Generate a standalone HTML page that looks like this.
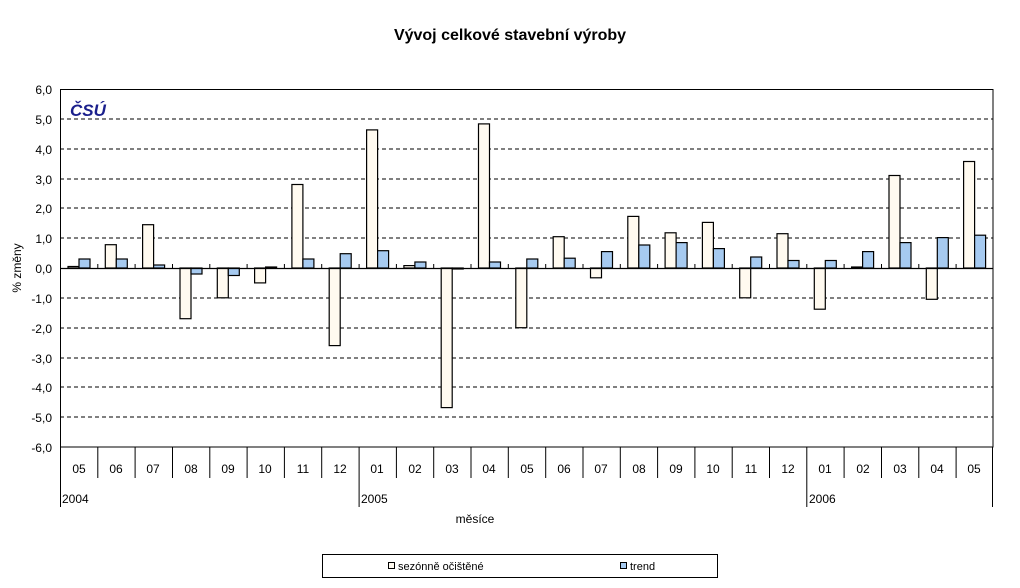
<!DOCTYPE html>
<html><head><meta charset="utf-8"><style>
html,body{margin:0;padding:0;background:#fff;}
svg{display:block;font-family:"Liberation Sans",Arial,sans-serif;}
</style></head><body>
<svg width="1020" height="588" viewBox="0 0 1020 588" xmlns="http://www.w3.org/2000/svg">
<rect width="1020" height="588" fill="#fff"/>
<text x="510" y="40" text-anchor="middle" font-size="16" font-weight="bold">Vývoj celkové stavební výroby</text>
<g stroke="#000" stroke-width="1" stroke-dasharray="4,3">
<line x1="60" x2="993" y1="119" y2="119"/><line x1="60" x2="993" y1="149" y2="149"/>
<line x1="60" x2="993" y1="179" y2="179"/><line x1="60" x2="993" y1="208" y2="208"/>
<line x1="60" x2="993" y1="238" y2="238"/><line x1="60" x2="993" y1="298" y2="298"/>
<line x1="60" x2="993" y1="328" y2="328"/><line x1="60" x2="993" y1="358" y2="358"/>
<line x1="60" x2="993" y1="387" y2="387"/><line x1="60" x2="993" y1="417" y2="417"/>
</g>
<rect x="60.5" y="89.5" width="932.5" height="357.5" fill="none" stroke="#000"/>
<text x="70" y="116" font-size="17" font-weight="bold" fill="#1a1f8c" font-style="italic">ČSÚ</text>
<g font-size="12" text-anchor="end">
<text x="52" y="94">6,0</text><text x="52" y="124">5,0</text><text x="52" y="154">4,0</text>
<text x="52" y="184">3,0</text><text x="52" y="213">2,0</text><text x="52" y="243">1,0</text>
<text x="52" y="273">0,0</text><text x="52" y="303">-1,0</text><text x="52" y="333">-2,0</text>
<text x="52" y="363">-3,0</text><text x="52" y="392">-4,0</text><text x="52" y="422">-5,0</text>
<text x="52" y="452">-6,0</text>
</g>
<text transform="translate(21,268) rotate(-90)" text-anchor="middle" font-size="12">% změny</text>
<g stroke="#000" stroke-width="1.2">
<g fill="#fffaf0">
<rect x="68" y="266.5" width="11" height="1.5"/>
<rect x="105.3" y="244.7" width="11" height="23.3"/>
<rect x="142.6" y="224.7" width="11" height="43.3"/>
<rect x="180" y="268" width="11" height="50.7"/>
<rect x="217.3" y="268" width="11" height="29.8"/>
<rect x="254.6" y="268" width="11" height="14.9"/>
<rect x="291.9" y="184.5" width="11" height="83.5"/>
<rect x="329.2" y="268" width="11" height="77.6"/>
<rect x="366.6" y="129.9" width="11" height="138.1"/>
<rect x="403.9" y="265.6" width="11" height="2.4"/>
<rect x="441.2" y="268" width="11" height="139.6"/>
<rect x="478.5" y="123.9" width="11" height="144.1"/>
<rect x="515.8" y="268" width="11" height="59.7"/>
<rect x="553.2" y="236.7" width="11" height="31.3"/>
<rect x="590.5" y="268" width="11" height="9.8"/>
<rect x="627.8" y="216.4" width="11" height="51.6"/>
<rect x="665.1" y="232.8" width="11" height="35.2"/>
<rect x="702.4" y="222.4" width="11" height="45.6"/>
<rect x="739.7" y="268" width="11" height="29.8"/>
<rect x="777" y="233.7" width="11" height="34.3"/>
<rect x="814.3" y="268" width="11" height="41.2"/>
<rect x="851.6" y="267" width="11" height="1"/>
<rect x="889" y="175.5" width="11" height="92.5"/>
<rect x="926.3" y="268" width="11" height="31.3"/>
<rect x="963.6" y="161.5" width="11" height="106.5"/>
</g>
<g fill="#a6caf0">
<rect x="79" y="259" width="11" height="9"/>
<rect x="116.3" y="259" width="11" height="9"/>
<rect x="153.6" y="265" width="11" height="3"/>
<rect x="191" y="268" width="11" height="6"/>
<rect x="228.3" y="268" width="11" height="7.5"/>
<rect x="265.6" y="267" width="11" height="1"/>
<rect x="302.9" y="259" width="11" height="9"/>
<rect x="340.2" y="253.7" width="11" height="14.3"/>
<rect x="377.6" y="250.7" width="11" height="17.3"/>
<rect x="414.9" y="262" width="11" height="6"/>
<rect x="452.2" y="268" width="11" height="1"/>
<rect x="489.5" y="262" width="11" height="6"/>
<rect x="526.8" y="259" width="11" height="9"/>
<rect x="564.2" y="258.2" width="11" height="9.8"/>
<rect x="601.5" y="251.6" width="11" height="16.4"/>
<rect x="638.8" y="245" width="11" height="23"/>
<rect x="676.1" y="242.6" width="11" height="25.4"/>
<rect x="713.4" y="248.6" width="11" height="19.4"/>
<rect x="750.7" y="257" width="11" height="11"/>
<rect x="788" y="260.5" width="11" height="7.5"/>
<rect x="825.3" y="260.5" width="11" height="7.5"/>
<rect x="862.6" y="251.6" width="11" height="16.4"/>
<rect x="900" y="242.6" width="11" height="25.4"/>
<rect x="937.3" y="237.6" width="11" height="30.4"/>
<rect x="974.6" y="235.2" width="11" height="32.8"/>
</g>
</g>
<line x1="60" x2="993" y1="268.5" y2="268.5" stroke="#000" stroke-width="1.2"/>
<g stroke="#000" stroke-width="1">
<line x1="97.8" x2="97.8" y1="264" y2="268"/><line x1="135.1" x2="135.1" y1="264" y2="268"/>
<line x1="172.5" x2="172.5" y1="264" y2="268"/><line x1="209.8" x2="209.8" y1="264" y2="268"/>
<line x1="247.1" x2="247.1" y1="264" y2="268"/><line x1="284.4" x2="284.4" y1="264" y2="268"/>
<line x1="321.7" x2="321.7" y1="264" y2="268"/><line x1="359.1" x2="359.1" y1="264" y2="268"/>
<line x1="396.4" x2="396.4" y1="264" y2="268"/><line x1="433.7" x2="433.7" y1="264" y2="268"/>
<line x1="471" x2="471" y1="264" y2="268"/><line x1="508.3" x2="508.3" y1="264" y2="268"/>
<line x1="545.7" x2="545.7" y1="264" y2="268"/><line x1="583" x2="583" y1="264" y2="268"/>
<line x1="620.3" x2="620.3" y1="264" y2="268"/><line x1="657.6" x2="657.6" y1="264" y2="268"/>
<line x1="694.9" x2="694.9" y1="264" y2="268"/><line x1="732.2" x2="732.2" y1="264" y2="268"/>
<line x1="769.5" x2="769.5" y1="264" y2="268"/><line x1="806.8" x2="806.8" y1="264" y2="268"/>
<line x1="844.1" x2="844.1" y1="264" y2="268"/><line x1="881.5" x2="881.5" y1="264" y2="268"/>
<line x1="918.8" x2="918.8" y1="264" y2="268"/><line x1="956.1" x2="956.1" y1="264" y2="268"/>
</g>
<g stroke="#000" stroke-width="1">
<line x1="60.5" x2="60.5" y1="447" y2="507"/>
<line x1="97.8" x2="97.8" y1="447" y2="478"/><line x1="135.1" x2="135.1" y1="447" y2="478"/>
<line x1="172.5" x2="172.5" y1="447" y2="478"/><line x1="209.8" x2="209.8" y1="447" y2="478"/>
<line x1="247.1" x2="247.1" y1="447" y2="478"/><line x1="284.4" x2="284.4" y1="447" y2="478"/>
<line x1="321.7" x2="321.7" y1="447" y2="478"/><line x1="359.1" x2="359.1" y1="447" y2="507"/>
<line x1="396.4" x2="396.4" y1="447" y2="478"/><line x1="433.7" x2="433.7" y1="447" y2="478"/>
<line x1="471" x2="471" y1="447" y2="478"/><line x1="508.3" x2="508.3" y1="447" y2="478"/>
<line x1="545.7" x2="545.7" y1="447" y2="478"/><line x1="583" x2="583" y1="447" y2="478"/>
<line x1="620.3" x2="620.3" y1="447" y2="478"/><line x1="657.6" x2="657.6" y1="447" y2="478"/>
<line x1="694.9" x2="694.9" y1="447" y2="478"/><line x1="732.2" x2="732.2" y1="447" y2="478"/>
<line x1="769.5" x2="769.5" y1="447" y2="478"/><line x1="806.8" x2="806.8" y1="447" y2="507"/>
<line x1="844.1" x2="844.1" y1="447" y2="478"/><line x1="881.5" x2="881.5" y1="447" y2="478"/>
<line x1="918.8" x2="918.8" y1="447" y2="478"/><line x1="956.1" x2="956.1" y1="447" y2="478"/>
<line x1="992.5" x2="992.5" y1="447" y2="507"/>
</g>
<g font-size="12" text-anchor="middle">
<text x="79" y="473">05</text><text x="116" y="473">06</text><text x="153" y="473">07</text>
<text x="191" y="473">08</text><text x="228" y="473">09</text><text x="265" y="473">10</text>
<text x="303" y="473">11</text><text x="340" y="473">12</text><text x="377" y="473">01</text>
<text x="415" y="473">02</text><text x="452" y="473">03</text><text x="489" y="473">04</text>
<text x="527" y="473">05</text><text x="564" y="473">06</text><text x="601" y="473">07</text>
<text x="639" y="473">08</text><text x="676" y="473">09</text><text x="713" y="473">10</text>
<text x="751" y="473">11</text><text x="788" y="473">12</text><text x="825" y="473">01</text>
<text x="863" y="473">02</text><text x="900" y="473">03</text><text x="937" y="473">04</text>
<text x="974" y="473">05</text>
</g>
<g font-size="12">
<text x="62" y="503">2004</text><text x="361" y="503">2005</text><text x="809" y="503">2006</text>
</g>
<text x="475" y="523" text-anchor="middle" font-size="12">měsíce</text>
<rect x="322.5" y="554.5" width="395" height="23" fill="#fff" stroke="#000"/>
<rect x="388.5" y="562.5" width="6" height="6" fill="#fffaf0" stroke="#000"/>
<text x="398" y="570" font-size="11">sezónně očištěné</text>
<rect x="620.5" y="562.5" width="6" height="6" fill="#a6caf0" stroke="#000"/>
<text x="630" y="570" font-size="11">trend</text>
</svg>
</body></html>
